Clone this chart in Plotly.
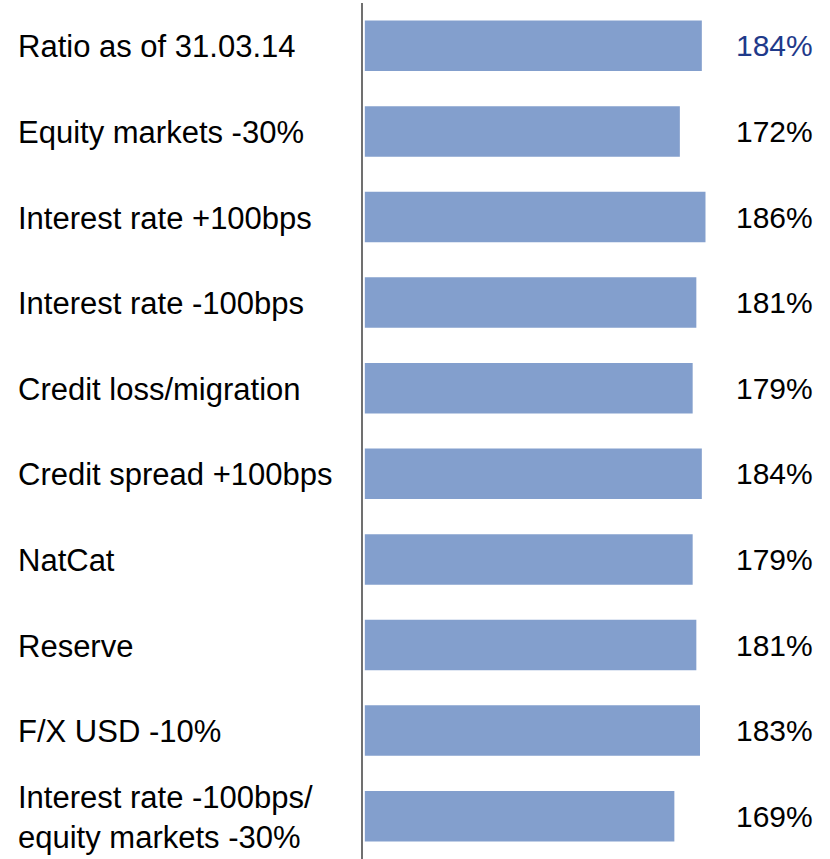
import plotly.graph_objects as go

categories = [
    "Ratio as of 31.03.14",
    "Equity markets -30%",
    "Interest rate +100bps",
    "Interest rate -100bps",
    "Credit loss/migration",
    "Credit spread +100bps",
    "NatCat",
    "Reserve",
    "F/X USD -10%",
    "Interest rate -100bps/<br>equity markets -30%",
]
values = [184, 172, 186, 181, 179, 184, 179, 181, 183, 169]
value_labels = [f"{v}%" for v in values]
label_colors = ["#1F3A8A"] + ["#000000"] * 9

W, H = 830, 859
ML, MR, MT, MB = 363, 15, 3, 0
plot_w = W - ML - MR
px_per_unit = (700 - ML) / 184

fig = go.Figure()
fig.add_trace(go.Bar(
    x=values, y=list(range(len(categories))), orientation="h",
    marker=dict(color="#839FCD", line=dict(width=0)),
    width=0.59, hoverinfo="skip",
))

font = "Liberation Sans, Arial, sans-serif"
ann = []
for i, c in enumerate(categories):
    ann.append(dict(x=(16 - ML) / plot_w, xref="paper", y=i, yref="y",
                    yshift=-1,
                    text=c, showarrow=False, xanchor="left", align="left",
                    font=dict(family=font, size=31, color="#000000")))
for i, t in enumerate(value_labels):
    ann.append(dict(x=1, xref="paper", y=i, yref="y",
                    text=t, showarrow=False, xanchor="right",
                    font=dict(family=font, size=30, color=label_colors[i])))

fig.update_layout(
    width=W, height=H,
    margin=dict(l=ML, r=MR, t=MT, b=MB),
    plot_bgcolor="white", paper_bgcolor="white",
    showlegend=False,
    annotations=ann,
    xaxis=dict(range=[-1, plot_w / px_per_unit - 1],
               visible=False, fixedrange=True),
    yaxis=dict(range=[len(categories) - 0.5, -0.5], showticklabels=False,
               showgrid=False, zeroline=False, showline=True,
               linecolor="#707070", linewidth=2, ticks="", fixedrange=True),
)
fig.write_html("out.html", config={"displayModeBar": False},
               post_script="document.body.style.margin='0';")
